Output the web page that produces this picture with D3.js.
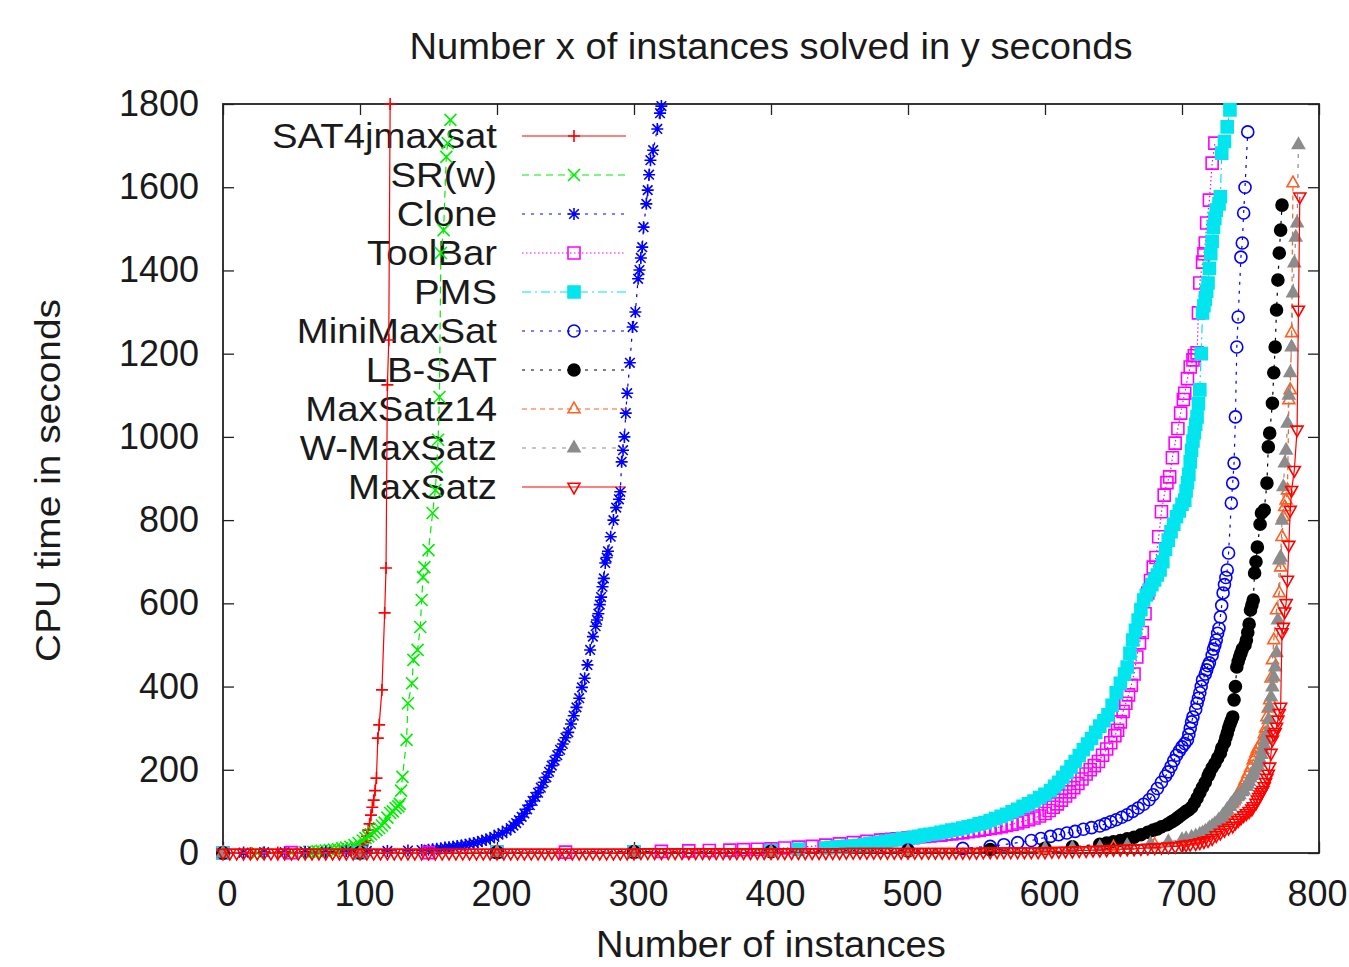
<!DOCTYPE html>
<html>
<head>
<meta charset="utf-8">
<script src="https://cdn.jsdelivr.net/npm/d3@7"></script>
<style>
body { margin: 0; background: #fff; }
text { font-family: "Liberation Sans", Arial, Helvetica, sans-serif; fill: #1a1a1a; }
</style>
</head>
<body>
<svg id="chart" width="1349" height="967"></svg>
<script>
// labels
var chartTitle = "Number x of instances solved in y seconds";
var xLabel = "Number of instances";
var yLabel = "CPU time in seconds";
var xTicks = [0, 100, 200, 300, 400, 500, 600, 700, 800];
var yTicks = [0, 200, 400, 600, 800, 1000, 1200, 1400, 1600, 1800];
var seriesNames = ["SAT4jmaxsat", "SR(w)", "Clone", "ToolBar", "PMS", "MiniMaxSat", "LB-SAT", "MaxSatz14", "W-MaxSatz", "MaxSatz"];

// [instances solved, cpu seconds]
var sat4j = [[0,0],[20,0],[40,1],[60,1],[75,2],[85,4],[90,5],[94,7],[97,9],[99,12],[100,14],[101,17],[102,20],[103,25],
  [104,30],[105,40],[106,55],[107,70],[108,91],[109,110],[110,127],[111,150],[112,180],[113,276],[114,308],[116,392],
  [118,577],[119,685],[120,1125],[121,1233],[122,1800]];

var srw = [[0,0],[25,0],[50,1],[60,2],[63,3],[66,3],[69,4],[72,5],[75,6],[78,7],[81,8],[84,9],[87,11],[90,13],[93,15],
  [96,19],[99,24],[102,30],[104,36],[106,40],[108,45],[110,50],[112,55],[114,60],[116,66],[118,73],[120,85],[122,96],
  [124,100],[126,108],[128,112],[129,118],[130,150],[131,183],[134,272],[135,360],[138,408],[139,464],[142,488],[144,543],
  [145,608],[146,663],[147,687],[150,728],[153,817],[155,872],[156,928],[157,993],[158,1096],[159,1442],[161,1497],
  [163,1673],[164,1706],[166,1762]];

var clone = [[0,1],[15,1],[30,2],[45,2],[60,3],[75,3],[90,4],[105,5],[120,5],[135,6],[145,7],[150,8],[153,9],[156,10],
  [159,11],[162,13],[165,14],[168,15],[171,17],[174,18],[177,20],[180,22],[183,24],[186,26],[189,29],[192,32],[195,35],
  [198,39],[201,44],[204,48],[207,54],[210,60],[212,66],[214,72],[216,79],[218,87],[220,95],[222,105],[224,115],[226,125],
  [228,135],[230,145],[232,157],[234,170],[236,182],[238,195],[240,210],[242,222],[244,235],[246,248],[248,262],[250,277],
  [252,290],[254,310],[256,330],[258,350],[260,372],[262,398],[264,420],[266,452],[268,488],[270,520],[272,545],[273,560],
  [274,575],[275,597],[276,615],[277,640],[278,660],[279,697],[280,710],[281,725],[283,760],[285,800],[287,830],[289,850],
  [290,868],[291,940],[292,968],[293,1000],[294,1057],[295,1105],[297,1178],[299,1264],[301,1300],[303,1380],[304,1401],
  [305,1430],[306,1456],[307,1504],[309,1560],[310,1593],[311,1630],[312,1665],[314,1689],[317,1740],[319,1778],[320,1795]];

var toolbar = [[0,0],[50,1],[100,1],[150,1],[200,2],[250,2],[300,3],[320,4],[340,5],[355,6],[370,7],[380,8],[390,9],
  [400,10],[410,12],[420,14],[430,16],[440,19],[450,22],[460,25],[470,28],[480,31],[484,32],[488,33],[492,34],[496,35],
  [500,36],[504,37],[508,39],[512,40],[516,41],[520,42],[524,43],[528,45],[532,46],[536,48],[540,49],[544,51],[548,53],
  [552,55],[556,57],[560,59],[564,61],[568,63],[572,66],[576,69],[580,72],[584,76],[588,80],[592,84],[596,89],[600,95],
  [603,102],[606,110],[609,118],[612,127],[615,137],[618,147],[621,157],[624,167],[627,178],[630,190],[633,200],[636,210],
  [639,220],[642,235],[645,250],[648,265],[651,282],[653,295],[655,315],[657,340],[659,360],[661,380],[663,403],[665,430],
  [667,471],[669,505],[671,530],[673,575],[675,625],[677,655],[679,687],[681,710],[683,760],[685,820],[687,860],[689,890],
  [691,904],[693,950],[695,985],[697,1020],[699,1057],[701,1090],[702,1105],[704,1140],[706,1168],[708,1185],[709,1195],
  [711,1202],[712,1298],[713,1370],[715,1420],[716,1440],[717,1466],[718,1514],[720,1569],[722,1658],[724,1706]];

var pms = [[0,0],[100,1],[200,2],[300,3],[400,6],[420,9],[440,12],[444,13],[448,14],[452,15],[456,16],[460,17],[464,18],
  [468,20],[472,22],[476,24],[480,26],[484,28],[488,30],[492,32],[496,34],[500,35],[504,38],[508,40],[512,43],[516,45],
  [520,47],[524,50],[528,52],[532,55],[536,57],[540,60],[544,63],[548,66],[552,70],[556,73],[560,78],[564,83],[568,88],
  [572,93],[576,99],[580,105],[584,112],[588,118],[592,125],[596,133],[600,141],[604,150],[607,160],[610,170],[613,182],
  [616,194],[619,207],[622,220],[625,234],[628,248],[631,262],[634,275],[637,290],[640,305],[643,318],[646,332],[649,355],
  [652,385],[655,408],[658,430],[660,447],[662,480],[664,512],[666,535],[668,560],[670,585],[672,608],[674,620],[676,632],
  [678,645],[680,656],[682,668],[684,680],[686,700],[688,730],[690,752],[692,772],[694,790],[696,808],[698,822],[700,838],
  [702,848],[703,870],[704,890],[705,910],[706,940],[707,968],[708,990],[709,1010],[710,1030],[711,1048],[712,1080],
  [713,1113],[714,1200],[715,1298],[716,1315],[717,1330],[718,1350],[719,1370],[720,1405],[721,1440],[722,1470],
  [723,1504],[724,1525],[725,1545],[727,1560],[728,1577],[729,1682],[731,1710],[733,1745],[735,1786]];

var minimaxsat = [[0,0],[100,1],[200,2],[300,3],[400,4],[500,7],[540,11],[560,16],[570,20],[580,25],[590,30],[597,35],
  [604,40],[610,44],[616,48],[622,52],[628,57],[634,61],[640,65],[644,70],[648,75],[652,80],[656,86],[660,92],[664,100],
  [668,108],[672,117],[676,128],[679,140],[682,155],[685,170],[688,185],[690,195],[692,208],[694,222],[696,235],[698,245],
  [700,255],[702,263],[704,272],[705,285],[706,300],[707,315],[708,327],[710,345],[711,360],[712,372],[713,385],[714,400],
  [715,416],[717,430],[718,440],[719,450],[720,457],[722,475],[723,490],[724,500],[725,512],[726,528],[727,540],[728,567],
  [729,595],[730,625],[731,645],[732,662],[733,680],[734,721],[736,841],[737,889],[738,937],[739,1048],[740,1216],
  [741,1288],[743,1432],[744,1466],[745,1538],[746,1600],[748,1733]];

var lbsat = [[0,0],[100,1],[200,1],[300,2],[400,3],[500,5],[560,8],[600,11],[620,15],[640,21],[645,24],[650,27],
  [655,30],[660,34],[665,38],[670,44],[675,50],[679,55],[682,58],[685,63],[689,68],[691,72],[693,76],[695,80],[697,85],
  [699,90],[701,95],[703,100],[705,104],[707,110],[709,120],[711,132],[713,145],[715,158],[717,170],[719,185],[720,192],
  [722,205],[724,215],[726,228],[728,240],[729,252],[731,265],[732,277],[733,288],[734,300],[735,310],[736,318],[737,327],
  [738,368],[739,400],[740,447],[741,460],[742,471],[743,480],[744,490],[746,500],[747,512],[748,530],[749,550],[750,584],
  [751,596],[752,608],[753,673],[754,700],[755,735],[757,790],[758,817],[760,824],[762,889],[763,976],[764,1009],
  [766,1081],[767,1154],[768,1216],[769,1305],[770,1377],[771,1442],[772,1497],[773,1557]];

var maxsatz14 = [[0,0],[100,0],[200,1],[300,1],[400,2],[500,3],[600,7],[650,14],[680,20],[700,25],[706,28],[710,31],
  [713,35],[716,42],[719,48],[722,55],[724,61],[726,68],[728,76],[730,85],[732,93],[733,100],[735,112],[737,120],
  [738,125],[740,135],[742,148],[744,160],[746,175],[748,190],[750,205],[752,223],[753,232],[754,241],[755,250],[757,260],
  [759,272],[760,286],[761,300],[762,327],[763,348],[764,368],[765,420],[766,464],[767,512],[769,584],[771,625],[772,687],
  [773,760],[774,808],[775,832],[776,848],[777,872],[778,1089],[779,1113],[780,1250],[781,1610]];

var wmaxsatz = [[0,0],[100,0],[200,1],[300,1],[400,2],[500,4],[600,10],[620,12],[640,14],[660,18],[677,22],[690,27],
  [700,32],[703,34],[707,38],[710,41],[713,45],[715,48],[717,52],[719,56],[720,60],[722,65],[724,70],[726,75],[727,80],
  [729,86],[730,92],[732,98],[733,105],[735,112],[736,118],[738,126],[739,130],[741,137],[742,140],[744,147],[745,151],
  [747,160],[748,165],[749,172],[750,180],[751,186],[752,192],[753,198],[754,205],[755,212],[756,218],[757,225],[758,237],
  [759,248],[760,260],[761,274],[762,288],[763,320],[764,351],[765,375],[766,399],[767,423],[768,447],[769,481],[770,560],
  [771,704],[772,711],[773,800],[774,880],[775,937],[776,968],[777,1033],[778,1100],[779,1154],[780,1216],[781,1346],
  [782,1418],[783,1480],[784,1514],[785,1702]];

var maxsatz = [[0,0],[5,0],[10,0],[15,0],[20,0],[25,0],[30,0],[35,0],[40,0],[45,0],[50,0],[55,0],[60,0],[65,0],[70,0],
  [75,0],[80,0],[85,0],[90,0],[95,0],[100,0],[105,0],[110,0],[115,0],[120,0],[125,0],[130,0],[135,0],[140,0],[145,0],
  [150,0],[155,0],[160,0],[165,0],[170,0],[175,0],[180,0],[185,0],[190,0],[195,0],[200,0],[205,0],[210,0],[215,0],[220,0],
  [225,0],[230,0],[235,0],[240,0],[245,0],[250,0],[255,0],[260,0],[265,0],[270,0],[275,0],[280,0],[285,0],[290,0],[295,0],
  [300,0],[305,1],[310,1],[315,1],[320,1],[325,1],[330,1],[335,1],[340,1],[345,1],[350,1],[355,1],[360,1],[365,1],[370,1],
  [375,1],[380,1],[385,1],[390,1],[395,1],[400,1],[405,1],[410,1],[415,1],[420,1],[425,1],[430,1],[435,1],[440,1],[445,1],
  [450,1],[455,2],[460,2],[465,2],[470,2],[475,2],[480,2],[485,2],[490,2],[495,2],[500,2],[505,2],[510,2],[515,2],[520,2],
  [525,2],[530,2],[535,2],[540,2],[545,2],[550,2],[555,3],[560,3],[565,3],[570,3],[575,3],[580,3],[585,3],[590,3],[595,3],
  [600,3],[605,4],[610,4],[615,5],[620,5],[625,6],[630,6],[635,7],[640,7],[645,8],[650,9],[655,9],[660,10],[665,10],[670,11],
  [675,12],[680,13],[685,14],[690,15],[695,16],[700,18],[703,20],[706,21],[710,23],[713,25],[716,28],[719,30],[722,35],
  [725,42],[728,48],[731,55],[734,60],[737,65],[739,72],[741,78],[743,84],[745,90],[747,95],[749,100],[751,106],[752,112],
  [754,120],[755,128],[756,134],[757,140],[758,146],[759,151],[760,160],[761,170],[762,180],[763,190],[764,207],[765,240],
  [766,272],[767,285],[768,290],[769,303],[770,320],[771,336],[772,351],[773,530],[774,543],[775,580],[776,600],[777,656],
  [778,740],[779,824],[780,872],[782,920],[784,1017],[785,1305],[786,1577]];

var seriesData = [sat4j, srw, clone, toolbar, pms, minimaxsat, lbsat, maxsatz14, wmaxsatz, maxsatz];

// look of each series (gnuplot style line types)
var styles = [
  { color: "#ff0000", dash: null,        marker: "plus",    fill: false },
  { color: "#00ee00", dash: "7,5",       marker: "cross",   fill: false },
  { color: "#0000ff", dash: "3,6",       marker: "star",    fill: false },
  { color: "#ff00ff", dash: "1.5,2.5",   marker: "square",  fill: false },
  { color: "#00e5ee", dash: "9,4,2,4",   marker: "square",  fill: true  },
  { color: "#0000ff", dash: "3,6",       marker: "circle",  fill: false },
  { color: "#000000", dash: "3,6",       marker: "circle",  fill: true  },
  { color: "#ff6020", dash: "5,4",       marker: "triUp",   fill: false },
  { color: "#8c8c8c", dash: "4,6",       marker: "triUp",   fill: true  },
  { color: "#ff0000", dash: null,        marker: "triDown", fill: false }
];

var margin = { top: 104, left: 223 };
var width = 1096, height = 749;
var mSize = 6;

var x = d3.scaleLinear().domain([0, 800]).range([0, width]);
var y = d3.scaleLinear().domain([0, 1800]).range([height, 0]);

function markerPath(shape, s) {
  var h = s * 1.15, b = s * 0.62;
  switch (shape) {
    case "plus":  return "M" + (-s) + ",0H" + s + "M0," + (-s) + "V" + s;
    case "cross": return "M" + (-s) + "," + (-s) + "L" + s + "," + s + "M" + (-s) + "," + s + "L" + s + "," + (-s);
    case "star":  return markerPath("plus", s) + markerPath("cross", s * 0.8);
    case "square": return "M" + (-s) + "," + (-s) + "H" + s + "V" + s + "H" + (-s) + "Z";
    case "circle": return "M" + s + ",0A" + s + "," + s + " 0 1,1 " + (-s) + ",0A" + s + "," + s + " 0 1,1 " + s + ",0Z";
    case "triUp":   return "M0," + (-h) + "L" + s + "," + b + "L" + (-s) + "," + b + "Z";
    case "triDown": return "M0," + h + "L" + s + "," + (-b) + "L" + (-s) + "," + (-b) + "Z";
  }
}

var svg = d3.select("#chart");
var g = svg.append("g").attr("transform", "translate(" + margin.left + "," + margin.top + ")");

// title and axis labels (the source font runs a little wider than Liberation Sans)
svg.append("text").attr("transform", "translate(" + (margin.left + width / 2) + ",59) scale(1.06,1)")
  .attr("text-anchor", "middle").style("font-size", "36px").text(chartTitle);
svg.append("text").attr("transform", "translate(" + (margin.left + width / 2) + ",957) scale(1.06,1)")
  .attr("text-anchor", "middle").style("font-size", "36px").text(xLabel);
svg.append("text").attr("transform", "translate(60," + (margin.top + height / 2 + 2) + ") rotate(-90) scale(1.08,1)")
  .attr("text-anchor", "middle").style("font-size", "36px").text(yLabel);

// axes with inward ticks, mirrored on top and right
var tickLen = 11;
var gx = g.append("g").attr("transform", "translate(0," + height + ")")
  .call(d3.axisBottom(x).tickValues(xTicks).tickFormat(d3.format("d")).tickSizeInner(-tickLen).tickSizeOuter(0).tickPadding(27));
var gy = g.append("g")
  .call(d3.axisLeft(y).tickValues(yTicks).tickFormat(d3.format("d")).tickSizeInner(-tickLen).tickSizeOuter(0).tickPadding(24));
var gt = g.append("g")
  .call(d3.axisTop(x).tickValues(xTicks).tickFormat("").tickSizeInner(-tickLen).tickSizeOuter(0));
var gr = g.append("g").attr("transform", "translate(" + width + ",0)")
  .call(d3.axisRight(y).tickValues(yTicks).tickFormat("").tickSizeInner(-tickLen).tickSizeOuter(0));
[gx, gy, gt, gr].forEach(function (a) {
  a.select(".domain").remove();
  a.selectAll(".tick line").attr("stroke", "#222").attr("stroke-width", 1.3);
  a.selectAll(".tick text").style("font-size", "36px").attr("fill", "#1a1a1a").style("font-family", null);
});
// nudge labels right like the source, but keep the last one inside the page
gx.selectAll(".tick text").attr("dx", function (d) { return d === 800 ? -2 : 4; });

g.append("rect").attr("width", width).attr("height", height)
  .attr("fill", "none").attr("stroke", "#222").attr("stroke-width", 1.8);

// legend text first, curves are drawn over it
var keyX = 497 - margin.left, keyY0 = 136 - margin.top, keyStep = 39;
seriesNames.forEach(function (name, i) {
  g.append("text").attr("transform", "translate(" + keyX + "," + (keyY0 + i * keyStep + 12) + ") scale(1.065,1)")
    .attr("text-anchor", "end").style("font-size", "36px").text(name);
});

var line = d3.line().x(function (d) { return x(d[0]); }).y(function (d) { return y(d[1]); });

seriesData.forEach(function (data, i) {
  var st = styles[i];
  var sg = g.append("g").attr("class", "series");

  // key sample
  var ky = keyY0 + i * keyStep;
  sg.append("line").attr("x1", 522 - margin.left).attr("x2", 626 - margin.left)
    .attr("y1", ky).attr("y2", ky)
    .attr("stroke", st.color).attr("stroke-width", 1.2).attr("stroke-dasharray", st.dash);
  sg.append("path").attr("transform", "translate(" + (574 - margin.left) + "," + ky + ")")
    .attr("d", markerPath(st.marker, mSize))
    .attr("fill", st.fill ? st.color : "none").attr("stroke", st.color).attr("stroke-width", 1.6);

  sg.append("path").datum(data).attr("d", line)
    .attr("fill", "none").attr("stroke", st.color).attr("stroke-width", 1.2)
    .attr("stroke-dasharray", st.dash);

  sg.selectAll(".pt").data(data).enter().append("path").attr("class", "pt")
    .attr("transform", function (d) { return "translate(" + x(d[0]) + "," + y(d[1]) + ")"; })
    .attr("d", markerPath(st.marker, mSize))
    .attr("fill", st.fill ? st.color : "none").attr("stroke", st.color).attr("stroke-width", 1.6);
});
</script>
</body>
</html>
